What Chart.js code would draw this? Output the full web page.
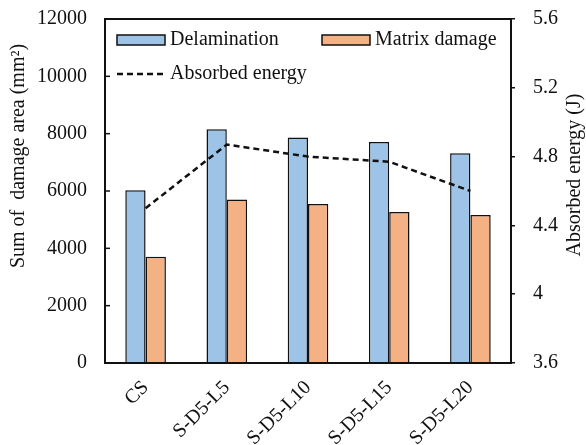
<!DOCTYPE html>
<html>
<head>
<meta charset="utf-8">
<script src="https://cdn.jsdelivr.net/npm/chart.js@4"></script>
<style>
  body { margin: 0; background: #fff; }
  #wrap { width: 586px; height: 445px; position: relative; }
</style>
</head>
<body>
<div id="wrap"><canvas id="chart"></canvas></div>
<script>
// samples on the x axis
const labels = ['CS', 'S-D5-L5', 'S-D5-L10', 'S-D5-L15', 'S-D5-L20'];
// damage areas (mm2)
const delamination = [6030, 8150, 7870, 7710, 7320];
const matrixDamage = [3710, 5700, 5550, 5270, 5160];
// absorbed energy (J)
const absorbedEnergy = [4.50, 4.87, 4.80, 4.77, 4.60];

const FONT = '"Liberation Serif", "Times New Roman", serif';

// legend drawn inside the plot, plus box, inward ticks and axis titles
const decorations = {
  id: 'decorations',
  afterDraw(chart) {
    const ctx = chart.ctx;
    const a = chart.chartArea;
    ctx.save();

    // frame
    ctx.strokeStyle = '#111';
    ctx.lineWidth = 2;
    ctx.strokeRect(a.left, a.top, a.right - a.left, a.bottom - a.top);

    // inward ticks on left axis
    const y = chart.scales.y;
    ctx.lineWidth = 1.5;
    y.ticks.forEach(t => {
      const py = y.getPixelForValue(t.value);
      ctx.beginPath();
      ctx.moveTo(a.left, py);
      ctx.lineTo(a.left + 5, py);
      ctx.stroke();
    });

    // legend
    const ds = chart.data.datasets;
    ctx.font = '20px ' + FONT;
    ctx.fillStyle = '#111';
    ctx.textBaseline = 'middle';
    const box = (x, yy, d) => {
      ctx.fillStyle = d.backgroundColor;
      ctx.fillRect(x, yy - 5, 48, 10);
      ctx.strokeStyle = '#111';
      ctx.lineWidth = 1.5;
      ctx.strokeRect(x, yy - 5, 48, 10);
      ctx.fillStyle = '#111';
      ctx.fillText(d.label, x + 53, yy);
    };
    box(a.left + 12, a.top + 21, ds[0]);
    box(a.left + 217, a.top + 21, ds[1]);
    ctx.setLineDash([6, 4]);
    ctx.lineWidth = 2.5;
    ctx.beginPath();
    ctx.moveTo(a.left + 12, a.top + 55);
    ctx.lineTo(a.left + 60, a.top + 55);
    ctx.stroke();
    ctx.setLineDash([]);
    ctx.fillText(ds[2].label, a.left + 65, a.top + 55);

    // axis titles
    ctx.font = '20px ' + FONT;
    ctx.textAlign = 'center';
    ctx.save();
    ctx.translate(19, 156);
    ctx.rotate(-Math.PI / 2);
    ctx.fillText('Sum of  damage area (mm\u00B2)', 0, 0);
    ctx.restore();
    ctx.save();
    ctx.translate(575, 175);
    ctx.rotate(-Math.PI / 2);
    ctx.fillText('Absorbed energy (J)', 0, 0);
    ctx.restore();

    ctx.restore();
  }
};

new Chart(document.getElementById('chart'), {
  type: 'bar',
  data: {
    labels: labels,
    datasets: [
      {
        label: 'Delamination',
        data: delamination,
        backgroundColor: '#9DC3E6',
        borderColor: '#111',
        borderWidth: 1.5,
        categoryPercentage: 0.5,
        barPercentage: 1,
        yAxisID: 'y',
        order: 1
      },
      {
        label: 'Matrix damage',
        data: matrixDamage,
        backgroundColor: '#F4B183',
        borderColor: '#111',
        borderWidth: 1.5,
        categoryPercentage: 0.5,
        barPercentage: 1,
        yAxisID: 'y',
        order: 1
      },
      {
        type: 'line',
        label: 'Absorbed energy',
        data: absorbedEnergy,
        borderColor: '#111',
        borderWidth: 2.5,
        borderDash: [6, 4],
        pointRadius: 0,
        fill: false,
        tension: 0,
        yAxisID: 'y1',
        order: 0
      }
    ]
  },
  options: {
    responsive: true,
    maintainAspectRatio: false,
    animation: false,
    layout: { padding: { top: 19, left: 0, right: 0, bottom: 0 } },
    plugins: {
      legend: { display: false },
      tooltip: { enabled: false }
    },
    scales: {
      x: {
        grid: { display: false },
        border: { color: '#111', width: 2 },
        ticks: {
          color: '#111',
          font: { family: FONT, size: 20 },
          minRotation: 45,
          maxRotation: 45,
          padding: 5
        },
        afterFit(s) { s.height = 82; s.paddingLeft = 0; s.paddingRight = 0; }
      },
      y: {
        position: 'left',
        min: 0,
        max: 12000,
        grid: { display: false },
        border: { color: '#111', width: 2 },
        ticks: {
          stepSize: 2000,
          color: '#111',
          font: { family: FONT, size: 20 },
          padding: 10,
          callback: v => String(v)
        },
        afterFit(s) { s.width = 105; s.paddingTop = 0; s.paddingBottom = 0; }
      },
      y1: {
        position: 'right',
        min: 3.6,
        max: 5.6,
        grid: { drawOnChartArea: false, tickLength: 4, color: '#111', lineWidth: 1.5 },
        border: { color: '#111', width: 2 },
        ticks: {
          stepSize: 0.4,
          color: '#111',
          font: { family: FONT, size: 20 },
          padding: 18,
          callback: v => String(Number(v.toFixed(1)))
        },
        afterFit(s) { s.width = 75; s.paddingTop = 0; s.paddingBottom = 0; }
      }
    }
  },
  plugins: [decorations]
});
</script>
</body>
</html>
